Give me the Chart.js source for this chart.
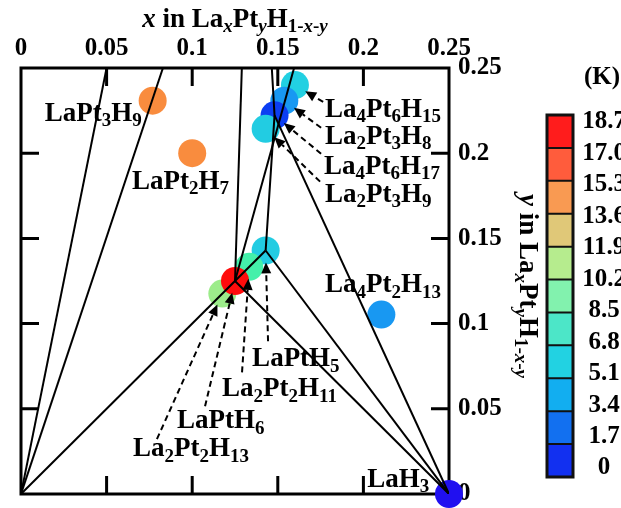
<!DOCTYPE html>
<html><head><meta charset="utf-8">
<script src="https://cdn.jsdelivr.net/npm/chart.js@4"></script>
<style>html,body{margin:0;padding:0;background:#fff;overflow:hidden}canvas{display:block}</style>
</head><body>
<canvas id="c" width="621" height="508"></canvas>
<script>
// ---------- DATA ----------
const compounds = ['LaPt3H9','LaPt2H7','La4Pt6H15','La2Pt3H8','La4Pt6H17','La2Pt3H9','LaPtH5','La2Pt2H11','La2Pt2H13','LaPtH6','La4Pt2H13','LaH3'];
const xLa = [0.0769, 0.1, 0.16, 0.1538, 0.1481, 0.1429, 0.1429, 0.1333, 0.1176, 0.125, 0.2105, 0.25];
const yPt = [0.2308, 0.2, 0.24, 0.2308, 0.2222, 0.2143, 0.1429, 0.1333, 0.1176, 0.125, 0.1053, 0];
const tieLines = [
  [[0, 0], [0.05, 0.25]],
  [[0, 0], [0.0829, 0.25]],
  [[0, 0], [0.1429, 0.1429]],
  [[0.125, 0.125], [0.129, 0.25]],
  [[0.125, 0.125], [0.1595, 0.25]],
  [[0.1429, 0.1429], [0.1481, 0.2222], [0.1465, 0.25]],
  [[0.125, 0.125], [0.25, 0]],
  [[0.1429, 0.1429], [0.25, 0]],
  [[0.1481, 0.2222], [0.25, 0]]
];
const xTicks = [0, 0.05, 0.1, 0.15, 0.2, 0.25];
const xTickLabels = ['0', '0.05', '0.1', '0.15', '0.2', '0.25'];
const yTicks = [0, 0.05, 0.1, 0.15, 0.2, 0.25];
const yTickLabels = ['0', '0.05', '0.1', '0.15', '0.2', '0.25'];
const cbarLabels = ['18.7', '17.0', '15.3', '13.6', '11.9', '10.2', '8.5', '6.8', '5.1', '3.4', '1.7', '0'];

// ---------- STYLE / LAYOUT ----------
const pointColors = ['#f98c3e','#f98c3e','#22d0e2','#1898f2','#0c3ef2','#22cce2','#22cce2','#44f0aa','#9cec8a','#ff0c0c','#1898f2','#2010f0'];
const cbarColors = ['#ff1c1c','#ff5c3c','#f99a52','#e0c878','#b6ec8e','#82f2ae','#4ce6c8','#22d2e2','#12aef0','#1270f0','#1230f0'];
// label anchors (left, baseline) in data units, and arrow start points in data units
const labelAnchor = [
  [0.0139, 0.219], [0.0648, 0.1792], [0.1776, 0.2213], [0.1776, 0.2055], [0.1770, 0.1879], [0.1776, 0.1715],
  [0.1350, 0.0749], [0.1174, 0.0574], [0.0654, 0.0222], [0.0911, 0.0386], [0.1776, 0.1183], [0.2022, 0.0041]
];
const arrowStart = [
  null, null, [0.1765, 0.2301], [0.1753, 0.2149], [0.1753, 0.1997], [0.1747, 0.1833],
  [0.1443, 0.0896], [0.1291, 0.0714], [0.0794, 0.0322], [0.1075, 0.0515], null, null
];
const FONT = '"Liberation Serif", "Times New Roman", serif';

function drawRich(ctx, parts, x, y, size, align) {
  const subSize = Math.round(size * 0.7);
  const w = parts.reduce((acc, p) => {
    ctx.font = (p.it ? 'italic ' : '') + 'bold ' + (p.sub ? subSize : size) + 'px ' + FONT;
    return acc + ctx.measureText(p.t).width;
  }, 0);
  let cx = align === 'center' ? x - w / 2 : x;
  ctx.textAlign = 'left';
  ctx.textBaseline = 'alphabetic';
  for (const p of parts) {
    ctx.font = (p.it ? 'italic ' : '') + 'bold ' + (p.sub ? subSize : size) + 'px ' + FONT;
    ctx.fillText(p.t, cx, p.sub ? y + size * 0.2 : y);
    cx += ctx.measureText(p.t).width;
  }
  return w;
}
function formulaParts(s) {
  return s.match(/\d+|\D+/g).map(t => ({ t, sub: /^\d/.test(t) }));
}
const axisTitleParts = [
  { t: 'x', it: true }, { t: ' in La' }, { t: 'x', sub: true, it: true }, { t: 'Pt' }, { t: 'y', sub: true, it: true },
  { t: 'H' }, { t: '1-', sub: true }, { t: 'x', sub: true, it: true }, { t: '-', sub: true }, { t: 'y', sub: true, it: true }
];
const yTitleParts = [{ t: 'y', it: true }].concat(axisTitleParts.slice(1));

function arrow(ctx, x0, y0, x1, y1) {
  const ang = Math.atan2(y1 - y0, x1 - x0);
  const hl = 11, hw = 5;
  const bx = x1 - hl * Math.cos(ang), by = y1 - hl * Math.sin(ang);
  ctx.save();
  ctx.strokeStyle = '#000'; ctx.fillStyle = '#000';
  ctx.lineWidth = 2; ctx.setLineDash([6, 4]);
  ctx.beginPath(); ctx.moveTo(x0, y0); ctx.lineTo(bx, by); ctx.stroke();
  ctx.setLineDash([]);
  ctx.beginPath();
  ctx.moveTo(x1, y1);
  ctx.lineTo(bx + hw * Math.sin(ang), by - hw * Math.cos(ang));
  ctx.lineTo(bx - hw * Math.sin(ang), by + hw * Math.cos(ang));
  ctx.closePath(); ctx.fill();
  ctx.restore();
}

const framePlugin = {
  id: 'frame',
  beforeDatasetsDraw(chart) {
    const { ctx, chartArea: a, scales } = chart;
    ctx.save();
    ctx.strokeStyle = '#000';
    ctx.lineWidth = 3;
    ctx.strokeRect(a.left, a.top, a.right - a.left, a.bottom - a.top);
    const tl = 18;
    ctx.beginPath();
    xTicks.slice(1, -1).forEach(v => {
      const px = scales.x.getPixelForValue(v);
      ctx.moveTo(px, a.top); ctx.lineTo(px, a.top + tl);
      ctx.moveTo(px, a.bottom); ctx.lineTo(px, a.bottom - tl);
    });
    yTicks.slice(1, -1).forEach(v => {
      const py = scales.y.getPixelForValue(v);
      ctx.moveTo(a.left, py); ctx.lineTo(a.left + tl, py);
      ctx.moveTo(a.right, py); ctx.lineTo(a.right - tl, py);
    });
    ctx.stroke();
    ctx.restore();
  },
  afterDatasetsDraw(chart) {
    const { ctx, chartArea: a, scales } = chart;
    const X = v => scales.x.getPixelForValue(v), Y = v => scales.y.getPixelForValue(v);
    ctx.save();
    ctx.fillStyle = '#000';
    // compound labels
    compounds.forEach((name, i) => {
      const [lx, ly] = labelAnchor[i];
      drawRich(ctx, formulaParts(name), X(lx), Y(ly), 27, 'left');
      if (arrowStart[i]) {
        const sx = X(arrowStart[i][0]), sy = Y(arrowStart[i][1]);
        const cx = X(xLa[i]), cy = Y(yPt[i]);
        const d = Math.hypot(sx - cx, sy - cy);
        const g = 12;
        arrow(ctx, sx, sy, cx + (sx - cx) * g / d, cy + (sy - cy) * g / d);
      }
    });
    // top axis title
    drawRich(ctx, axisTitleParts, (a.left + a.right) / 2, 27, 27, 'center');
    // right axis title (rotated)
    ctx.save();
    ctx.translate(520, 286);
    ctx.rotate(Math.PI / 2);
    drawRich(ctx, yTitleParts, 0, 0, 27, 'center');
    ctx.restore();
    // colour bar
    const cbL = 547, cbR = 573, cbT = 115, cbB = 477;
    const n = cbarColors.length, h = (cbB - cbT) / n;
    cbarColors.forEach((c, i) => {
      ctx.fillStyle = c;
      ctx.fillRect(cbL, cbT + i * h, cbR - cbL, h);
    });
    ctx.strokeStyle = '#111';
    ctx.lineWidth = 2;
    ctx.beginPath();
    for (let i = 1; i < n; i++) { ctx.moveTo(cbL, cbT + i * h); ctx.lineTo(cbR, cbT + i * h); }
    ctx.stroke();
    ctx.lineWidth = 3;
    ctx.strokeRect(cbL, cbT, cbR - cbL, cbB - cbT);
    ctx.fillStyle = '#000';
    ctx.font = 'bold 25px ' + FONT;
    ctx.textAlign = 'center'; ctx.textBaseline = 'middle';
    const l0 = 122, l1 = 468;
    cbarLabels.forEach((t, i) => ctx.fillText(t, 604, l0 + i * (l1 - l0) / (cbarLabels.length - 1)));
    ctx.font = 'bold 25px ' + FONT;
    ctx.textBaseline = 'alphabetic';
    ctx.fillText('(K)', 602, 84);
    ctx.restore();
  }
};

const lineDatasets = tieLines.map(seg => ({
  type: 'scatter', showLine: true,
  data: seg.map(p => ({ x: p[0], y: p[1] })),
  borderColor: '#000', borderWidth: 2, pointRadius: 0, fill: false, order: 0
}));
const pointDataset = {
  type: 'scatter',
  data: xLa.map((x, i) => ({ x, y: yPt[i] })),
  pointRadius: 14, pointHoverRadius: 14,
  pointBackgroundColor: pointColors, pointBorderColor: 'rgba(0,0,0,0)', pointBorderWidth: 0,
  order: 1, clip: false
};
const tickFont = { family: FONT, weight: 'bold', size: 25 };
const noPad = s => { s.paddingTop = 0; s.paddingBottom = 0; s.paddingLeft = 0; s.paddingRight = 0; };

new Chart(document.getElementById('c'), {
  type: 'scatter',
  data: { datasets: [...lineDatasets, pointDataset] },
  options: {
    responsive: false, animation: false, devicePixelRatio: 1,
    layout: { padding: { left: 21, top: 0, right: 0, bottom: 13 } },
    plugins: { legend: { display: false }, tooltip: { enabled: false } },
    scales: {
      x: {
        type: 'linear', position: 'top', min: 0, max: 0.25,
        afterBuildTicks: s => { s.ticks = xTicks.map(v => ({ value: v })); },
        ticks: { callback: (v, i) => xTickLabels[i], font: tickFont, color: '#000', padding: -4, maxRotation: 0, autoSkip: false },
        grid: { display: false }, border: { display: false },
        afterFit: s => { s.height = 68; noPad(s); }
      },
      y: {
        type: 'linear', position: 'right', min: 0, max: 0.25,
        afterBuildTicks: s => { s.ticks = yTicks.map(v => ({ value: v })); },
        ticks: { callback: (v, i) => yTickLabels[i], font: tickFont, color: '#000', padding: 1, autoSkip: false },
        grid: { display: false }, border: { display: false },
        afterFit: s => { s.width = 172; noPad(s); }
      }
    }
  },
  plugins: [framePlugin]
});
</script>
</body></html>
